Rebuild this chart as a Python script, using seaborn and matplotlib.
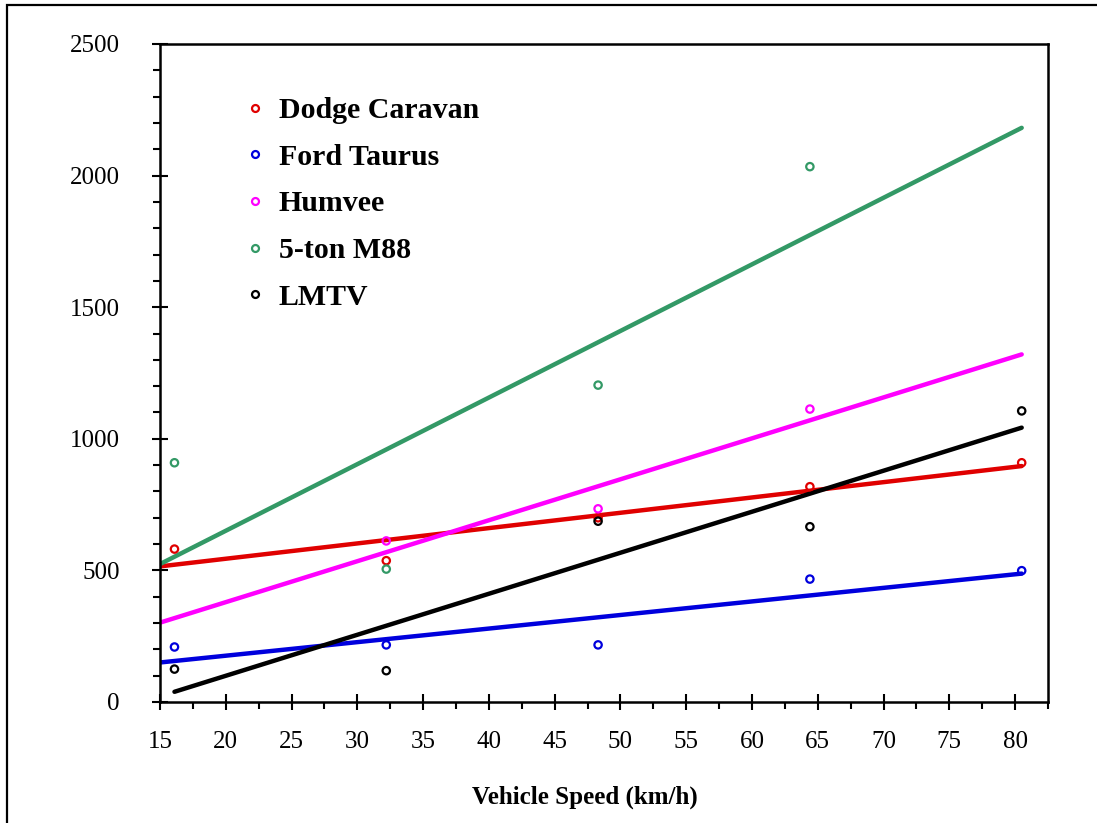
import numpy as np
import pandas as pd
import seaborn as sns
import matplotlib.pyplot as plt
from matplotlib.lines import Line2D
from matplotlib.patches import Rectangle
from matplotlib.ticker import MultipleLocator

# data
names = ['Dodge Caravan', 'Ford Taurus', 'Humvee', '5-ton M88', 'LMTV']
colors = ['#e00000', '#0000dd', '#ff00ff', '#339966', '#000000']

speed = [16.1, 32.2, 48.3, 64.4, 80.5]
dodge = [581, 537, 700, 818, 909]
ford = [209, 217, 217, 467, 499]
humvee_speed = [32.2, 48.3, 64.4]
humvee = [612, 734, 1113]
m88_speed = [16.1, 32.2, 48.3, 64.4]
m88 = [909, 505, 1204, 2034]
lmtv = [125, 119, 687, 666, 1106]

# trend line spans (start, end) as in the original
trend_start = [15, 15, 15, 15, 16.1]
trend_end = [80.5, 80.5, 80.5, 80.5, 80.5]

series = [(speed, dodge), (speed, ford), (humvee_speed, humvee),
          (m88_speed, m88), (speed, lmtv)]

sns.set_style('ticks')
plt.rcParams['font.family'] = ['Liberation Serif', 'DejaVu Serif']
plt.rcParams['text.color'] = 'black'
plt.rcParams['axes.labelcolor'] = 'black'
plt.rcParams['xtick.color'] = 'black'
plt.rcParams['ytick.color'] = 'black'

fig = plt.figure(figsize=(10.97, 8.23), dpi=100)
ax = fig.add_axes([160 / 1097, 1 - 702 / 823, (1048 - 160) / 1097, (702 - 44) / 823])

handles = []
for (xs, ys), name, col, lo, hi in zip(series, names, colors, trend_start, trend_end):
    df = pd.DataFrame({'speed': xs, 'value': ys})
    coef = np.polyfit(df['speed'], df['value'], 1)
    fit_x = np.array([lo, hi])
    sns.lineplot(x=fit_x, y=np.polyval(coef, fit_x), color=col, lw=3.2, ax=ax, zorder=2)
    sns.scatterplot(data=df, x='speed', y='value', marker='o', s=28,
                    facecolor='none', edgecolor=col, linewidth=1.6, ax=ax, zorder=3)
    handles.append(Line2D([], [], ls='none', marker='o', markersize=5,
                          markerfacecolor='none', markeredgecolor=col,
                          markeredgewidth=1.6, label=name))

ax.set_xlim(15, 82.5)
ax.set_ylim(0, 2500)
ax.xaxis.set_major_locator(MultipleLocator(5))
ax.xaxis.set_minor_locator(MultipleLocator(2.5))
ax.yaxis.set_major_locator(MultipleLocator(500))
ax.yaxis.set_minor_locator(MultipleLocator(100))
ax.tick_params(which='major', direction='inout', length=12, width=1.5,
               labelsize=18, color='black', labelcolor='black')
ax.tick_params(axis='x', which='major', pad=15)
ax.tick_params(axis='y', which='major', pad=23)
ax.tick_params(which='minor', direction='out', length=5, width=1.5, color='black')

for sp in ax.spines.values():
    sp.set_linewidth(1.8)
    sp.set_color('black')

ax.set_xlabel('Vehicle Speed (km/h)', fontsize=18, fontweight='bold', color='black')
ax.xaxis.set_label_coords((585 - 160) / 888, -(797 - 702) / 658, transform=ax.transAxes)
ax.xaxis.label.set_verticalalignment('center')
ax.set_ylabel('')

leg = fig.legend(handles=handles, loc='upper left',
                 bbox_to_anchor=(243 / 1097, 1 - 97 / 823),
                 frameon=False, handlelength=0.8,
                 handletextpad=0.4, labelspacing=0.66, borderpad=0,
                 borderaxespad=0, prop={'weight': 'bold', 'size': 21.5})
for t in leg.get_texts():
    t.set_color('black')

# outer chart frame (left and top edges visible)
fig.patches.append(Rectangle((7 / 1097, -0.05), 1.2, 1 - 5 / 823 + 0.05,
                             transform=fig.transFigure, fill=False,
                             lw=1.6, edgecolor='black'))

fig.savefig('out.png', dpi=100)
